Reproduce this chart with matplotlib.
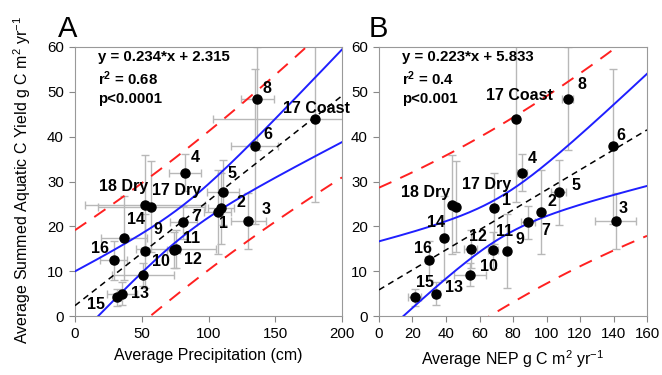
import numpy as np
import matplotlib
matplotlib.use('Agg')
from matplotlib import pyplot as plt

plt.rcParams['font.family'] = ['Liberation Sans', 'DejaVu Sans']
plt.rcParams['mathtext.fontset'] = 'custom'
plt.rcParams['mathtext.rm'] = 'Liberation Sans'
plt.rcParams['mathtext.bf'] = 'Liberation Sans:bold'
plt.rcParams['mathtext.default'] = 'regular'

# site labels, shared by both panels
labels = ['1', '2', '3', '4', '5', '6', '7', '8', '9', '10', '11', '12', '13',
          '14', '15', '16', '17 Dry', '18 Dry', '17 Coast']

# summed aquatic C yield (y) and its error, same in both panels
yield_c = [24.0, 23.2, 21.2, 32.0, 27.6, 37.9, 20.9, 48.5, 14.5, 9.2, 14.8, 14.9, 5.0,
           17.4, 4.2, 12.4, 24.4, 24.8, 44.0]
yield_err = [8.0, 9.3, 6.3, 4.1, 7.2, 17.3, 3.7, 11.5, 8.3, 2.6, 4.0, 4.3, 2.5,
             9.4, 1.9, 4.4, 10.2, 11.0, 18.5]

# panel A: precipitation (cm)
precip = [109.3, 106.8, 129.7, 82.7, 110.6, 134.7, 81.2, 136.6, 52.2, 50.9, 74.0, 75.8, 35.3,
          36.8, 31.6, 29.1, 57.1, 52.7, 179.6]
precip_err = [10, 10, 13, 12, 12, 17.5, 10, 12.5, 3, 23, 5, 30, 11,
              17, 3, 10, 40, 45, 76]

# panel B: NEP
nep = [68.5, 96.5, 141.3, 85.6, 107.3, 139.7, 89.0, 112.6, 76.4, 54.1, 68.1, 54.7, 34.2,
       38.8, 21.3, 29.7, 46.2, 43.8, 82.0]
nep_err = [0, 0, 12.4, 3, 4.5, 2, 4, 3.3, 0, 9.5, 3, 4, 2,
           0, 4, 2, 0, 0, 0]

fits = [(0.234, 2.315, '0.68', 'p<0.0001'), (0.223, 5.833, '0.4', 'p<0.001')]

# label offsets in pixels (dx, dy down)
offs_a = {'8': (10, -10), '17 Coast': (2, -10), '6': (13, -12), '4': (10, -15), '5': (9, -19),
          '2': (23, -9), '1': (3, 15), '3': (18, -11), '7': (13, -6), '18 Dry': (-22, -18),
          '17 Dry': (25, -16), '14': (12, -18), '9': (13, -21), '11': (18, -11), '12': (17, 10),
          '16': (-14, -12), '10': (18, -13), '13': (18, 0), '15': (-21, 7)}
offs_b = {'17 Coast': (3, -23), '8': (14, -14), '6': (8, -11), '3': (7, -12), '4': (10, -14),
          '5': (17, -7), '2': (11, -10), '7': (18, 8), '1': (13, -8), '18 Dry': (-27, -12),
          '17 Dry': (30, -22), '14': (-8, -15), '16': (-6, -12), '12': (7, -13), '11': (11, -18),
          '9': (13, -11), '10': (19, -8), '13': (18, -6), '15': (10, -15)}

fig = plt.figure(figsize=(6.62, 3.75), dpi=100)
ax_a = fig.add_axes([75 / 662, 1 - 316 / 375, 267 / 662, 269 / 375])
ax_b = fig.add_axes([379 / 662, 1 - 316 / 375, 268 / 662, 269 / 375])

panels = [(ax_a, precip, precip_err, offs_a, 200, 50, 'Average Precipitation (cm)', 'A', 68),
          (ax_b, nep, nep_err, offs_b, 160, 20, 'Average NEP g C m$^2$ yr$^{-1}$', 'B', 378)]

y = np.array(yield_c)
n = len(y)
t_val = 2.11

for (ax, xs, xerr, offs, xmax, xstep, xlabel, letter, lx), (slope, icpt, r2, pval) in zip(panels, fits):
    x = np.array(xs)
    ax.errorbar(x, y, xerr=xerr, yerr=yield_err, fmt='none', ecolor='#b8b8b8',
                elinewidth=1, capsize=3, capthick=1, zorder=2)

    # regression line, confidence and prediction bands
    xx = np.linspace(0, xmax, 200)
    yy = slope * xx + icpt
    resid = y - (slope * x + icpt)
    s = np.sqrt(np.sum(resid ** 2) / (n - 2))
    sxx = np.sum((x - x.mean()) ** 2)
    ci = t_val * s * np.sqrt(1 / n + (xx - x.mean()) ** 2 / sxx)
    pi = t_val * s * np.sqrt(1 + 1 / n + (xx - x.mean()) ** 2 / sxx)
    ax.plot(xx, yy, '--', color='black', lw=1.1, dashes=(4, 3), zorder=3)
    ax.plot(xx, yy + ci, color='#1f1fff', lw=1.4, zorder=3)
    ax.plot(xx, yy - ci, color='#1f1fff', lw=1.4, zorder=3)
    ax.plot(xx, yy + pi, color='#ff2020', lw=1.4, dashes=(7, 5), zorder=3)
    ax.plot(xx, yy - pi, color='#ff2020', lw=1.4, dashes=(7, 5), zorder=3)

    ax.plot(x, y, 'o', color='black', ms=6.5, zorder=4)
    for lab, xi, yi in zip(labels, x, y):
        dx, dy = offs[lab]
        ax.annotate(lab, (xi, yi), xytext=(dx, -dy), textcoords='offset pixels',
                    ha='center', va='center', fontsize=11.5, fontweight='bold',
                    annotation_clip=False, zorder=5)

    ax.text(0.086, 0.962, 'y = {}*x + {}'.format(slope, icpt), transform=ax.transAxes,
            fontsize=10.8, fontweight='bold', va='center')
    ax.text(0.086, 0.882, 'r$^{\\bf 2}$ = ' + r2, transform=ax.transAxes,
            fontsize=10.8, fontweight='bold', va='center')
    ax.text(0.086, 0.808, pval, transform=ax.transAxes,
            fontsize=10.8, fontweight='bold', va='center')

    ax.set_xlim(0, xmax)
    ax.set_ylim(0, 60)
    ax.set_xticks(np.arange(0, xmax + 1, xstep))
    ax.set_yticks(np.arange(0, 61, 10))
    ax.tick_params(direction='out', length=4, color='#888888', labelsize=10.8, pad=4)
    for sp in ax.spines.values():
        sp.set_color('#999999')
    ax.set_xlabel(xlabel, fontsize=11.5, labelpad=5)
    fig.text(lx / 662, 1 - 37 / 375, letter, fontsize=21, ha='center', va='baseline')

fig.text(22 / 662, 1 - 180 / 375, 'Average Summed Aquatic C Yield g C m$^2$ yr$^{-1}$',
         rotation=90, ha='center', va='center', fontsize=11.5)

plt.savefig('out.png', dpi=100)
